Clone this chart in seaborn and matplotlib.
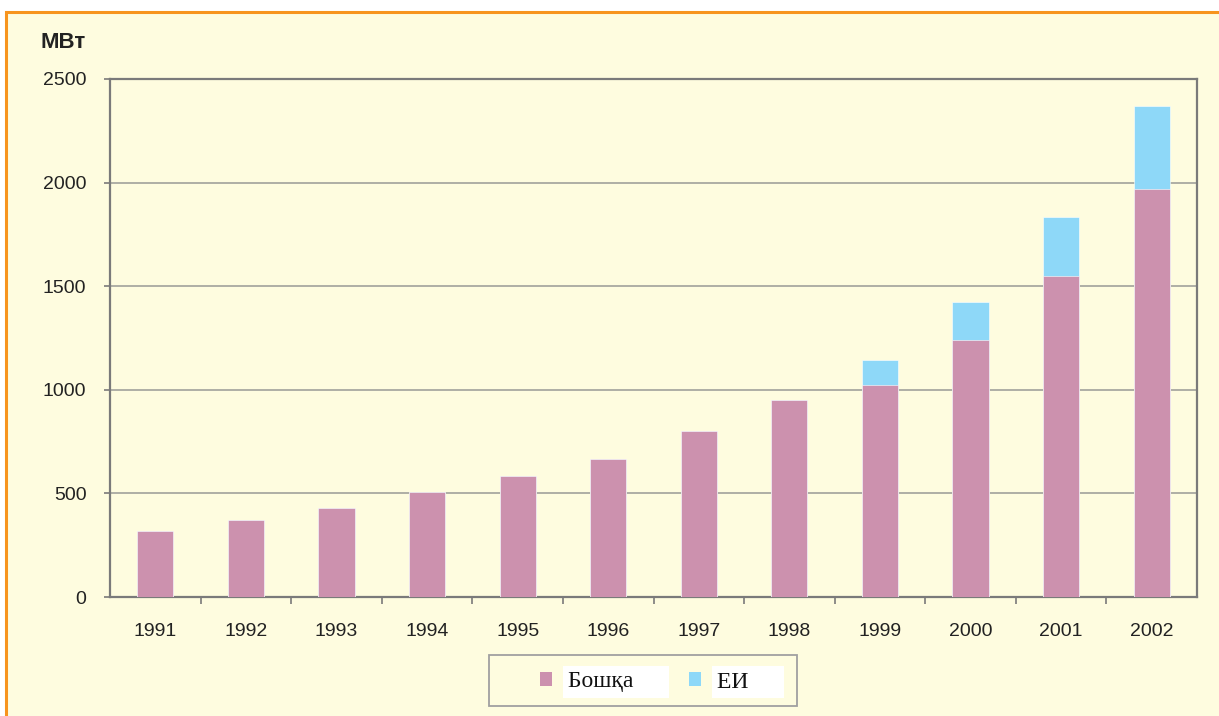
import matplotlib
matplotlib.use("Agg")
import matplotlib.pyplot as plt
import seaborn as sns
import pandas as pd
from matplotlib.patches import Rectangle, Patch

years = ["1991", "1992", "1993", "1994", "1995", "1996", "1997", "1998", "1999", "2000", "2001", "2002"]
boshka = [320, 370, 430, 505, 582, 665, 800, 950, 1025, 1240, 1550, 1970]
ei = [0, 0, 0, 0, 0, 0, 0, 0, 120, 185, 285, 400]
series_names = ["Бошқа", "ЕИ"]
yticks = [0, 500, 1000, 1500, 2000, 2500]

bg = "#FEFCDF"
pink = "#CC91AE"
blue = "#8ED8F8"

sns.set_theme(style="white")
plt.rcParams["font.family"] = ["Liberation Sans", "DejaVu Sans"]

fig = plt.figure(figsize=(12.19, 7.16), dpi=100)
fig.patch.set_facecolor("white")
border = Rectangle((6 / 1219, -0.01), 1.2, (716 - 12) / 716 + 0.01,
                   transform=fig.transFigure, facecolor=bg,
                   edgecolor="#F7941D", linewidth=2.2, zorder=-10)
fig.patches.append(border)

ax = fig.add_axes([110 / 1219, (716 - 597) / 716, 1087 / 1219, 518 / 716])
ax.set_zorder(1)
ax.set_facecolor(bg)

df = pd.DataFrame({"year": years, "boshka": boshka,
                   "total": [a + b for a, b in zip(boshka, ei)]})

sns.barplot(data=df, x="year", y="total", color=blue, saturation=1, width=0.4,
            edgecolor="#ffffff", linewidth=0.4, ax=ax, zorder=3)
sns.barplot(data=df, x="year", y="boshka", color=pink, saturation=1, width=0.4,
            edgecolor="#ffffff", linewidth=0.4, ax=ax, zorder=4)

ax.set_ylim(0, 2500)
ax.set_xlim(-0.5, len(years) - 0.5)
ax.set_yticks(yticks)
ax.set_yticklabels([str(v) for v in yticks], fontsize=14, color="#222222")
ax.set_xticks(range(len(years)))
ax.set_xticklabels(years, fontsize=14, color="#222222")
ax.set_xlabel("")
ax.set_ylabel("")

for v in yticks[1:-1]:
    ax.axhline(v, color="#A8A8A0", linewidth=1.3, zorder=1)

for s in ax.spines.values():
    s.set_visible(True)
    s.set_color("#7A7A7A")
    s.set_linewidth(1.6)

ax.tick_params(axis="y", which="major", length=4, width=1.2, color="#7A7A7A",
               left=True, pad=13)
ax.tick_params(axis="x", which="major", length=0, pad=19)
ax.set_xticks([i + 0.5 for i in range(len(years) - 1)], minor=True)
ax.tick_params(axis="x", which="minor", length=5, width=1.2, color="#7A7A7A",
               bottom=True)

fig.text(40 / 1219, 1 - 43 / 716, "МВт", fontsize=16, fontweight="bold",
         color="#222222", va="center", ha="left")

# legend frame
fig.patches.append(Rectangle((489 / 1219, 1 - 706 / 716), 308 / 1219, 51 / 716,
                             transform=fig.transFigure, facecolor=bg,
                             edgecolor="#A0A0A0", linewidth=1.3, zorder=-5))

handles = [Patch(facecolor=pink, edgecolor="none"), Patch(facecolor=blue, edgecolor="none")]
labels = [series_names[0] + "     ", series_names[1] + "     "]
leg = fig.legend(handles, labels,
                 loc="center left", bbox_to_anchor=(540 / 1219, 1 - 682 / 716),
                 ncol=2, frameon=False, handlelength=0.5, handleheight=0.5,
                 handletextpad=0.7, columnspacing=1.1, borderpad=0, borderaxespad=0,
                 prop={"family": "Liberation Serif", "size": 17})
for t in leg.get_texts():
    t.set_bbox(dict(facecolor="white", edgecolor="none", pad=4))
    t.set_color("#111111")

fig.savefig("out.png", dpi=100, facecolor=fig.get_facecolor())
